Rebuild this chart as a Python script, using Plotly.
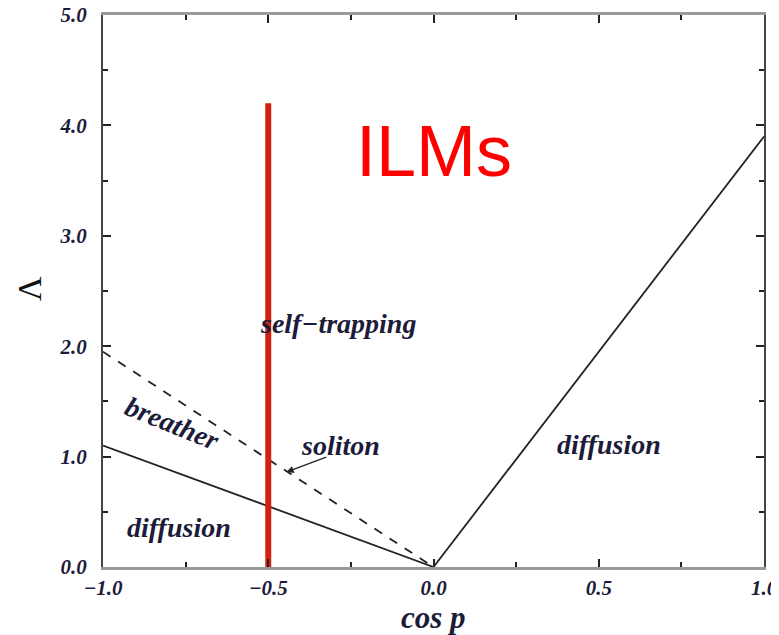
import plotly.graph_objects as go

# data
lower_x = [-1.0, 0.0]
lower_y = [1.1, 0.0]
dashed_x = [-1.0, 0.0]
dashed_y = [1.95, 0.0]
right_x = [0.0, 1.0]
right_y = [0.0, 3.9]
red_x = [-0.5, -0.5]
red_y = [0.0, 4.2]
x_ticks = [-1.0, -0.5, 0.0, 0.5, 1.0]
x_tick_labels = ["\u22121.0", "\u22120.5", "0.0", "0.5", "1.0"]
y_ticks = [0, 1, 2, 3, 4, 5]
y_tick_labels = ["0.0", "1.0", "2.0", "3.0", "4.0", "5.0"]

serif = "Liberation Serif, DejaVu Serif, serif"
txt_col = "#1c1c3a"

def bi(s):
    return "<b><i>%s</i></b>" % s

fig = go.Figure()
fig.add_trace(go.Scatter(x=lower_x, y=lower_y, mode="lines",
                         line=dict(color="#222", width=1.8), showlegend=False))
fig.add_trace(go.Scatter(x=dashed_x, y=dashed_y, mode="lines",
                         line=dict(color="#222", width=1.8, dash="dash"), showlegend=False))
fig.add_trace(go.Scatter(x=right_x, y=right_y, mode="lines",
                         line=dict(color="#222", width=1.8), showlegend=False))
fig.add_trace(go.Scatter(x=red_x, y=red_y, mode="lines",
                         line=dict(color="#d42010", width=6), showlegend=False))

def lab(text, x, y, size=28, angle=0):
    fig.add_annotation(x=x, y=y, xref="x", yref="y", text=bi(text),
                       showarrow=False, textangle=angle,
                       font=dict(family=serif, size=size, color=txt_col))

lab("self\u2212trapping", -0.29, 2.21)
lab("breather", -0.79, 1.30, angle=22)
lab("soliton", -0.28, 1.10)
lab("diffusion", -0.77, 0.36)
lab("diffusion", 0.53, 1.11)

# arrow for soliton
fig.add_annotation(x=-0.445, y=0.86, ax=-0.32, ay=1.0, xref="x", yref="y",
                   axref="x", ayref="y", text="", showarrow=True,
                   arrowhead=2, arrowsize=1.2, arrowwidth=1.2, arrowcolor="#222")

fig.add_annotation(x=0.0, y=3.77, xref="x", yref="y", text="ILMs", showarrow=False,
                   font=dict(family="Liberation Sans, Arial, sans-serif", size=72, color="#ff0000"))

# axis titles
fig.add_annotation(x=-0.110, y=0.504, xref="paper", yref="paper", text="\u039b",
                   xanchor="center", yanchor="middle",
                   showarrow=False, textangle=-90,
                   font=dict(family=serif, size=34, color="#111"))
fig.add_annotation(x=0.5, y=-0.0906, xref="paper", yref="paper", text=bi("cos p"),
                   xanchor="center", yanchor="middle",
                   showarrow=False, font=dict(family=serif, size=31, color=txt_col))

fig.update_layout(
    width=771, height=627,
    margin=dict(l=95, r=15, t=7, b=68),
    paper_bgcolor="white", plot_bgcolor="white",
    xaxis=dict(range=[-1, 1], tickvals=x_ticks, ticktext=[bi(t) for t in x_tick_labels],
               ticks="inside", ticklen=8, tickwidth=2, tickcolor="#222",
               minor=dict(dtick=0.25, ticks="inside", ticklen=5, tickwidth=2, tickcolor="#222"),
               showline=True, linecolor="#999", linewidth=3, mirror="ticks",
               showgrid=False, zeroline=False, automargin=False, ticklabeloverflow="allow",
               tickfont=dict(family=serif, size=21, color=txt_col)),
    yaxis=dict(range=[0, 5], tickvals=y_ticks, ticktext=[bi(t) for t in y_tick_labels],
               ticks="inside", ticklen=8, tickwidth=2, tickcolor="#222",
               minor=dict(dtick=0.5, ticks="inside", ticklen=5, tickwidth=2, tickcolor="#222"),
               showline=True, linecolor="#444", linewidth=2, mirror="ticks",
               showgrid=False, zeroline=False, automargin=False, ticklabelstandoff=10,
               ticklabeloverflow="allow",
               tickfont=dict(family=serif, size=21, color=txt_col)),
)

fig.write_html("out.html")
